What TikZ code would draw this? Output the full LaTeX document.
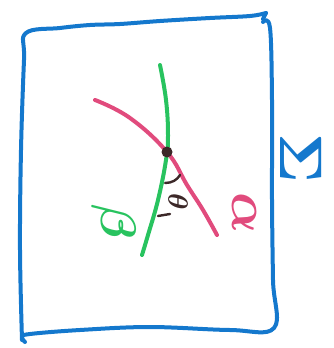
\documentclass[tikz,border=0pt]{standalone}
\usepackage{tikz}
\usepackage{bm}
\definecolor{penblue}{RGB}{20,120,205}
\definecolor{pengreen}{RGB}{40,195,95}
\definecolor{penpink}{RGB}{225,75,125}
\definecolor{penbrown}{RGB}{60,40,40}
\tikzset{
  pen/.style={line width=4pt, line cap=round, line join=round},
  lbl/.style={inner sep=0pt, rotate=-90}
}
\begin{document}
\begin{tikzpicture}[x=1pt,y=-1pt]
\useasboundingbox (0,0) rectangle (334,348);
% surface
\draw[pen, penblue] plot[smooth, tension=0.6] coordinates {(22,340) (20,250) (21,150) (24,60) (26,33) (60,28) (90,25) (120,24) (160,21) (210,18) (250,16) (266,13)};
\draw[pen, penblue] (266,13) -- (263,19);
\draw[pen, penblue] plot[smooth, tension=0.6] coordinates {(263,22) (270,28) (272,100) (272,200) (273,280) (274,328) (230,330) (150,327) (80,330) (30,334) (22,337) (25,342)};
% beta curve
\draw[pen, pengreen] plot[smooth, tension=0.7] coordinates {(160,65) (166,100) (168,135) (166,160) (158,200) (148,235) (142,255)};
% alpha curve
\draw[pen, penpink] plot[smooth, tension=0.7] coordinates {(95,100) (130,118) (167,152) (187,185) (203,210) (217,235)};
% intersection point
\node[circle, fill=penbrown, minimum size=11pt, inner sep=0pt] (x) at (167,152) {};
% angle mark
\draw[line width=2.4pt, penbrown, line cap=round] (165,183) .. controls (172,183) and (177,180) .. (180,175);
\draw[line width=2.4pt, penbrown, line cap=round] (158,216) -- (170,214);
% labels
\node[lbl, text=penbrown, scale=2.8] (theta) at (178,202) {$\bm{\theta}$};
\node[lbl, text=pengreen, scale=5] (beta) at (114,222) {$\bm{\beta}$};
\node[lbl, text=penpink, scale=5.4] (alpha) at (244,213) {$\bm{\alpha}$};
\node[lbl, text=penblue, scale=6] (sigma) at (301,158) {$\bm{\Sigma}$};
\end{tikzpicture}
\end{document}
